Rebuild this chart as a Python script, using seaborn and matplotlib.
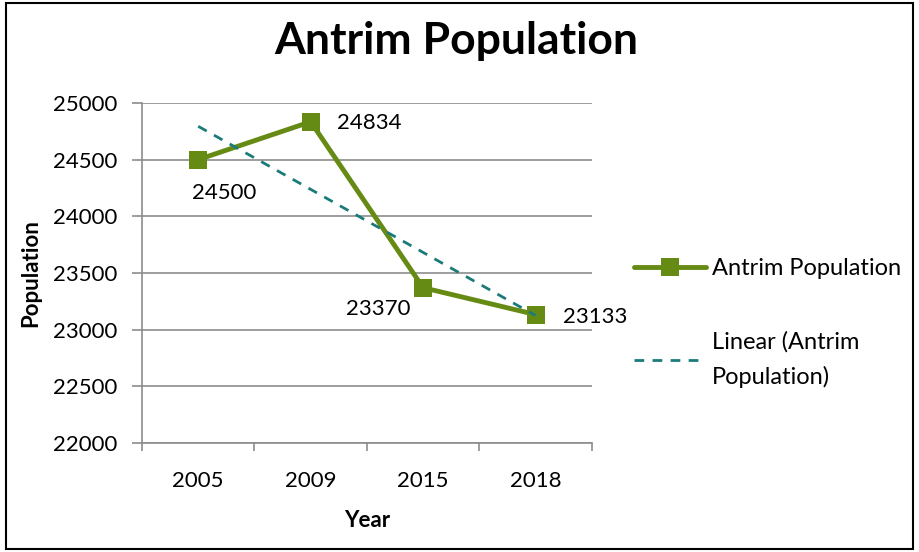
import numpy as np
import pandas as pd
from matplotlib import pyplot as plt
from matplotlib.patches import Rectangle
import seaborn as sns

years = ["2005", "2009", "2015", "2018"]
population = [24500, 24834, 23370, 23133]
y_ticks = [22000, 22500, 23000, 23500, 24000, 24500, 25000]
# offsets (points) of each data label from its marker
label_offsets = [(19, -24), (42, -1), (-32, -15), (43, -2)]

GREEN = "#668B14"
TEAL = "#1B7B7B"
GRID = "#8C8C8C"
FS = 16

sns.set_theme(style="white")
plt.rcParams["font.family"] = ["Lato", "DejaVu Sans"]
plt.rcParams["text.color"] = "black"
plt.rcParams["axes.labelcolor"] = "black"

df = pd.DataFrame({"pos": np.arange(len(years)), "Population": population})

fig = plt.figure(figsize=(9.19, 5.52), dpi=100)
ax = fig.add_axes([0.1545, 0.1975, 0.4895, 0.616])

sns.lineplot(data=df, x="pos", y="Population", ax=ax, color=GREEN, linewidth=3.5,
             marker="s", markersize=13, markeredgewidth=0, label="Antrim Population")
sns.regplot(data=df, x="pos", y="Population", ax=ax, scatter=False, ci=None,
            line_kws=dict(color=TEAL, linestyle=(0, (3.5, 3)), linewidth=2),
            label="Linear (Antrim\nPopulation)")

for i, v in enumerate(population):
    ax.annotate(str(v), (i, v), xytext=label_offsets[i], textcoords="offset points",
                ha="center", va="center", fontsize=FS, color="black")

ax.set_xlim(-0.5, len(years) - 0.5)
ax.set_ylim(y_ticks[0], y_ticks[-1])
ax.set_yticks(y_ticks)
ax.set_xticks(np.arange(len(years)))
ax.set_xticklabels(years)
ax.set_xticks(np.arange(len(years) + 1) - 0.5, minor=True)
ax.tick_params(axis="x", which="major", length=0, pad=20, labelsize=FS, colors="black")
ax.tick_params(axis="x", which="minor", bottom=True, length=6, width=1.2, color=GRID, direction="out")
ax.tick_params(axis="y", left=True, length=7, width=1.2, color=GRID, direction="out",
               labelsize=FS, labelcolor="black", pad=11)
ax.grid(True, axis="y", color=GRID, linewidth=1.2)
ax.grid(False, axis="x")
for side in ["top", "right"]:
    ax.spines[side].set_visible(False)
for side in ["left", "bottom"]:
    ax.spines[side].set_color(GRID)
    ax.spines[side].set_linewidth(1.2)

ax.set_xlabel("Year", fontsize=FS, fontweight="bold", labelpad=14)
ax.set_ylabel("Population", fontsize=FS, fontweight="bold", labelpad=8)
fig.text(0.497, 0.925, "Antrim Population", ha="center", va="center", fontsize=32, fontweight="bold")

leg = ax.legend(loc="upper left", bbox_to_anchor=(1.047, 0.607), frameon=False, fontsize=17,
                handlelength=3.05, handletextpad=0.25, labelspacing=2.2)
for t in leg.get_texts():
    t.set_linespacing(1.75)

fig.patches.append(Rectangle((0.006, 0.006), 0.988, 0.988, transform=fig.transFigure,
                             fill=False, edgecolor="black", linewidth=1.5))

fig.savefig("out.png", dpi=100)
